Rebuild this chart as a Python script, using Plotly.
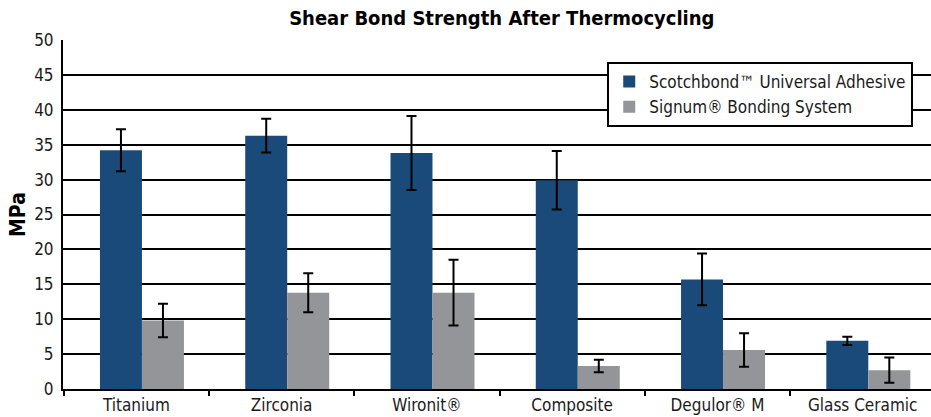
import plotly.graph_objects as go

categories = ["Titanium", "Zirconia", "Wironit®", "Composite", "Degulor® M", "Glass Ceramic"]
scotchbond_values = [34.2, 36.3, 33.8, 29.9, 15.7, 6.9]
scotchbond_errors = [3.0, 2.4, 5.3, 4.2, 3.7, 0.6]
signum_values = [9.8, 13.8, 13.8, 3.3, 5.6, 2.7]
signum_errors = [2.4, 2.8, 4.7, 0.9, 2.4, 1.8]
y_ticks = [0, 5, 10, 15, 20, 25, 30, 35, 40, 45, 50]

FONT = "DejaVu Sans Condensed, Liberation Sans, Arial, sans-serif"
BLUE = "#1a4a7a"
GRAY = "#939598"

fig = go.Figure()
fig.add_trace(go.Bar(
    name="Scotchbond™ Universal Adhesive",
    x=categories, y=scotchbond_values,
    marker=dict(color=BLUE, line=dict(width=0)),
    width=0.289, offset=-0.2506,
    error_y=dict(type="data", array=scotchbond_errors, visible=True,
                 color="black", thickness=2, width=5),
))
fig.add_trace(go.Bar(
    name="Signum® Bonding System",
    x=categories, y=signum_values,
    marker=dict(color=GRAY, line=dict(width=0)),
    width=0.289, offset=0.0386,
    error_y=dict(type="data", array=signum_errors, visible=True,
                 color="black", thickness=2, width=5),
))

fig.update_layout(
    width=931, height=417,
    margin=dict(l=63, r=0, t=40, b=28),
    paper_bgcolor="white", plot_bgcolor="white",
    barmode="overlay",
    font=dict(family=FONT, size=17, color="#1a1a1a"),
    title=dict(text="<b>Shear Bond Strength After Thermocycling</b>",
               x=0.539, xanchor="center", xref="container",
               y=0.958, yanchor="middle", yref="container",
               font=dict(family=FONT, size=20, color="black")),
    showlegend=True,
    legend=dict(x=0.627, y=0.937, xanchor="left", yanchor="top",
                bgcolor="white", bordercolor="black", borderwidth=2,
                font=dict(family=FONT, size=17, color="#1a1a1a"),
                tracegroupgap=0, itemsizing="constant"),
)
fig.update_xaxes(
    type="category", range=[-0.505, 5.47],
    showline=True, linecolor="black", linewidth=2,
    showgrid=False, tickson="boundaries", ticks="outside",
    ticklen=5, tickwidth=2, tickcolor="black",
    tickfont=dict(family=FONT, size=17, color="#1a1a1a"),
)
fig.update_yaxes(
    range=[0, 50], tickvals=y_ticks,
    showline=True, linecolor="black", linewidth=2,
    showgrid=True, gridcolor="black", gridwidth=2,
    zeroline=False, ticks="", ticklabelstandoff=4,
    tickfont=dict(family=FONT, size=17, color="#1a1a1a"),
    title=dict(text="<b>MPa</b>", standoff=3,
               font=dict(family=FONT, size=21, color="black")),
)

fig.write_html("out.html", config={"displayModeBar": False},
               post_script="document.body.style.margin='0';")
